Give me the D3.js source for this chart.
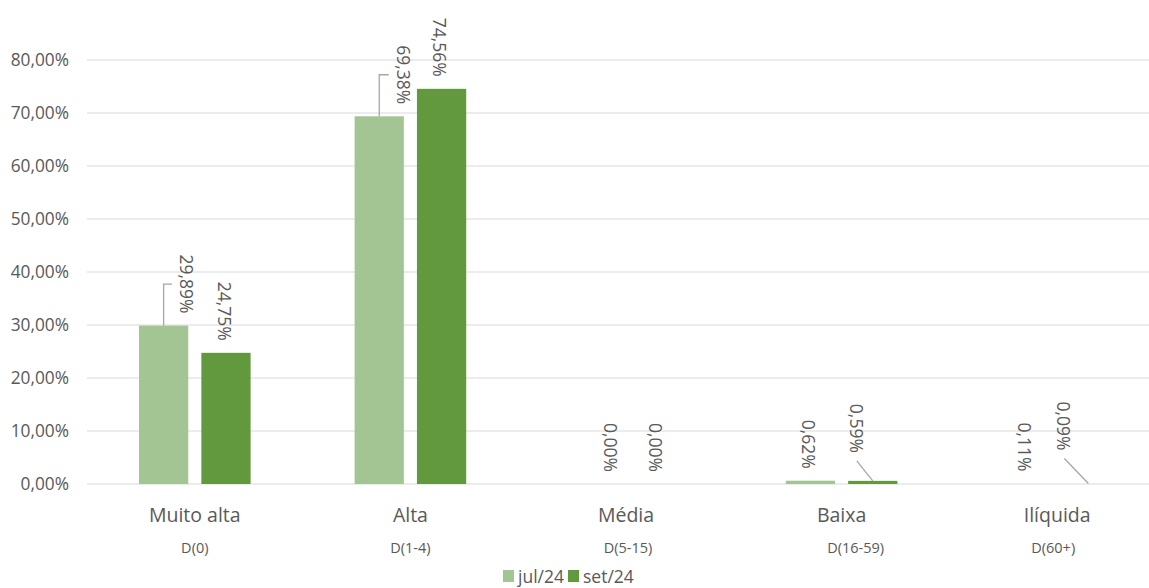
<!DOCTYPE html>
<html>
<head>
<meta charset="utf-8">
<script src="https://cdn.jsdelivr.net/npm/d3@7"></script>
<style>
  body { margin: 0; background: #fff; }
  text { font-family: "Open Sans", "DejaVu Sans", sans-serif; fill: #595959; }
</style>
</head>
<body>
<div id="chart"></div>
<script>
// data
var categories = ["Muito alta", "Alta", "Média", "Baixa", "Ilíquida"];
var subLabels = ["D(0)", "D(1-4)", "D(5-15)", "D(16-59)", "D(60+)"];
var series = ["jul/24", "set/24"];
var jul24 = [0.2989, 0.6938, 0.0000, 0.0062, 0.0011];
var set24 = [0.2475, 0.7456, 0.0000, 0.0059, 0.0009];
var yTicks = [0, 0.1, 0.2, 0.3, 0.4, 0.5, 0.6, 0.7, 0.8];

// label layout: moved labels [dx, dy, leader type]
var labelMoves = {
    "jul/24": [[24.5, 0, "elbow"], [25.5, 0, "elbow"], [17, 0, ""], [0, 0, ""], [0, 0, ""]],
    "set/24": [[0, 0, ""], [0, 0, ""], [0, 0, ""], [-15, -16, "straight"], [-23, -21, "straight"]]
};
var subLabelShift = [0, 0, 2, 14, -4];

var colors = { "jul/24": "#a3c594", "set/24": "#62993e" };

var svgWidth = 1149;
var svgHeight = 588;

var svg = d3.select("#chart")
    .append("svg")
    .attr("width", svgWidth)
    .attr("height", svgHeight);

var fmt = d3.formatLocale({ decimal: ",", thousands: ".", grouping: [3], currency: ["R$", ""] }).format(".2%");

// scales
var xScale = d3.scaleBand()
    .domain(categories)
    .range([87, 87 + 5 * 215.6]);

var xSub = d3.scaleBand()
    .domain(series)
    .range([52, xScale.bandwidth() - 52])
    .paddingInner(0.21);

var yScale = d3.scaleLinear()
    .domain([0, 0.8])
    .range([484, 60]);

// gridlines
svg.append("g").selectAll("line")
    .data(yTicks)
    .enter()
    .append("line")
    .attr("x1", 87)
    .attr("x2", 1165)
    .attr("y1", d => yScale(d))
    .attr("y2", d => yScale(d))
    .attr("stroke", "#d9d9d9")
    .attr("stroke-width", 1.2);

// y axis labels
var leftAxis = d3.axisLeft(yScale).tickValues(yTicks).tickFormat(fmt).tickSize(0).tickPadding(0);
var yAxisG = svg.append("g")
    .attr("transform", "translate(69,0)")
    .call(leftAxis);
yAxisG.select(".domain").remove();
yAxisG.selectAll("text")
    .attr("fill", "#595959")
    .style("font-size", "17.3px")
    .style("font-family", "'Open Sans', sans-serif");

// rows of data
var rows = [];
series.forEach(function(s) {
    var vals = s === "jul/24" ? jul24 : set24;
    categories.forEach(function(c, i) {
        rows.push({ cat: c, series: s, value: vals[i], move: labelMoves[s][i] });
    });
});

// bars (sub-pixel bars are not visible in the reference)
svg.append("g").selectAll("rect")
    .data(rows.filter(d => yScale(0) - yScale(d.value) >= 1))
    .enter()
    .append("rect")
    .attr("x", d => xScale(d.cat) + xSub(d.series))
    .attr("y", d => yScale(d.value))
    .attr("width", xSub.bandwidth())
    .attr("height", d => yScale(0) - yScale(d.value))
    .attr("fill", d => colors[d.series]);

// labels
function barCenter(d) { return xScale(d.cat) + xSub(d.series) + xSub.bandwidth() / 2; }
function labelX(d) { return barCenter(d) - 2 + d.move[0]; }
function labelBottom(d) { return yScale(d.value) - 12 + d.move[1]; }

var labels = svg.append("g").selectAll("text")
    .data(rows)
    .enter()
    .append("text")
    .attr("transform", d => `translate(${labelX(d)}, ${labelBottom(d)}) rotate(90)`)
    .attr("text-anchor", "end")
    .attr("dy", "0.35em")
    .style("font-size", "17.5px")
    .text(d => fmt(d.value));

// leader lines
var leaders = svg.append("g");
labels.each(function(d) {
    if (!d.move[2]) return;
    var len = this.getBBox().width;
    var mid = labelBottom(d) - len / 2;
    var pts;
    if (d.move[2] === "elbow") {
        pts = [[barCenter(d), yScale(d.value)], [barCenter(d), mid], [labelX(d) - 14, mid]];
    } else {
        pts = [[labelX(d) + 1, labelBottom(d) + 8], [barCenter(d), yScale(d.value)]];
    }
    leaders.append("path")
        .attr("d", d3.line()(pts))
        .attr("fill", "none")
        .attr("stroke", "#a6a6a6")
        .attr("stroke-width", 1.3);
});

// category labels
svg.append("g").selectAll("text")
    .data(categories)
    .enter()
    .append("text")
    .attr("x", d => xScale(d) + xScale.bandwidth() / 2)
    .attr("y", 522)
    .attr("text-anchor", "middle")
    .style("font-size", "19.5px")
    .text(d => d);

svg.append("g").selectAll("text")
    .data(subLabels)
    .enter()
    .append("text")
    .attr("x", (d, i) => xScale(categories[i]) + xScale.bandwidth() / 2 + subLabelShift[i])
    .attr("y", 553)
    .attr("text-anchor", "middle")
    .style("font-size", "14.5px")
    .text(d => d);

// legend
var legend = svg.append("g");
var legendX = [503, 568];
series.forEach(function(s, i) {
    legend.append("rect")
        .attr("x", legendX[i])
        .attr("y", 570)
        .attr("width", 11)
        .attr("height", 12)
        .attr("fill", colors[s]);
    legend.append("text")
        .attr("x", legendX[i] + 15)
        .attr("y", 583)
        .style("font-size", "17.5px")
        .text(s);
});
</script>
</body>
</html>
